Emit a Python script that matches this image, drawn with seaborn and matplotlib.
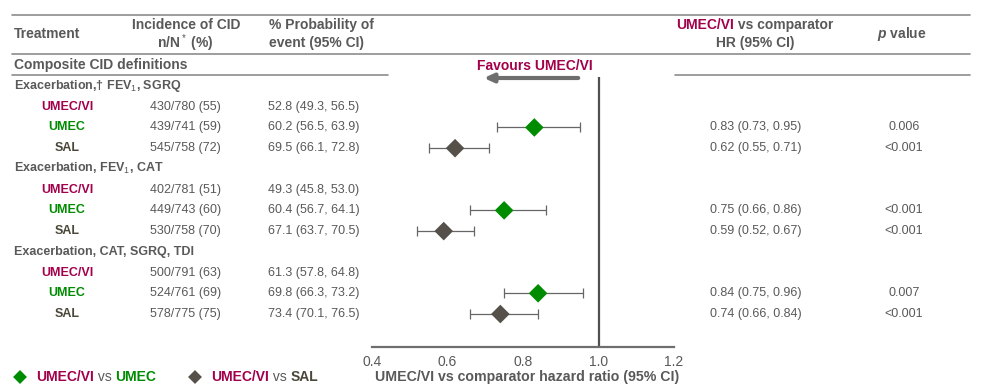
import numpy as np
import matplotlib
matplotlib.use("Agg")
import matplotlib.pyplot as plt
import pandas as pd
import seaborn as sns

sns.set_style("white")
plt.rcParams['font.family'] = ['Liberation Sans', 'DejaVu Sans']
plt.rcParams['mathtext.fontset'] = 'custom'
plt.rcParams['mathtext.rm'] = 'Liberation Sans'
plt.rcParams['mathtext.bf'] = 'Liberation Sans:bold'
plt.rcParams['mathtext.it'] = 'Liberation Sans:italic:bold'

# Data
groups = ["Exacerbation,† FEV$_1$, SGRQ", "Exacerbation, FEV$_1$, CAT",
          "Exacerbation, CAT, SGRQ, TDI"]
treatments = ["UMEC/VI", "UMEC", "SAL"]
incidence = [["430/780 (55)", "439/741 (59)", "545/758 (72)"],
             ["402/781 (51)", "449/743 (60)", "530/758 (70)"],
             ["500/791 (63)", "524/761 (69)", "578/775 (75)"]]
probability = [["52.8 (49.3, 56.5)", "60.2 (56.5, 63.9)", "69.5 (66.1, 72.8)"],
               ["49.3 (45.8, 53.0)", "60.4 (56.7, 64.1)", "67.1 (63.7, 70.5)"],
               ["61.3 (57.8, 64.8)", "69.8 (66.3, 73.2)", "73.4 (70.1, 76.5)"]]
hr = [[None, 0.83, 0.62], [None, 0.75, 0.59], [None, 0.84, 0.74]]
hr_lo = [[None, 0.73, 0.55], [None, 0.66, 0.52], [None, 0.75, 0.66]]
hr_hi = [[None, 0.95, 0.71], [None, 0.86, 0.67], [None, 0.96, 0.84]]
p_values = [[None, "0.006", "<0.001"], [None, "<0.001", "<0.001"],
            [None, "0.007", "<0.001"]]
xticks = [0.4, 0.6, 0.8, 1.0, 1.2]

CRIMSON = "#A3004C"
GREEN = "#008C00"
GRAY = "#595959"
SAL_TXT = "#4B4739"
DIAMOND_GRAY = "#55504A"
LINE = "#8C8C8C"
tcolors = {"UMEC/VI": CRIMSON, "UMEC": GREEN, "SAL": SAL_TXT}
mcolors = {"UMEC": GREEN, "SAL": DIAMOND_GRAY}

W, H = 983, 388
fig = plt.figure(figsize=(W / 100, H / 100), dpi=100)

# overlay axes in pixel coordinates
ov = fig.add_axes([0, 0, 1, 1])
ov.set_xlim(0, W)
ov.set_ylim(H, 0)
ov.axis("off")

row0, step = 86, 20.73
def row_y(i):
    return row0 + i * step

FS = 9
HFS = 10
renderer = fig.canvas.get_renderer()

def put_parts(x, y, parts, ha="left", fs=FS):
    objs = []
    for s, c, w in parts:
        t = ov.text(0, y, s, color=c, fontsize=fs, fontweight=w, va="center")
        objs.append(t)
    widths = [t.get_window_extent(renderer).width for t in objs]
    total = sum(widths)
    if ha == "center":
        x = x - total / 2
    for t, wd in zip(objs, widths):
        t.set_x(x)
        x += wd
    return x

# header lines
for y, x0, x1 in [(15, 12, 970), (54, 12, 970), (75, 12, 388), (75, 675, 970)]:
    ov.plot([x0, x1], [y, y], color=LINE, lw=1.2)

ov.text(14, 34, "Treatment", fontsize=HFS, fontweight="bold", color=GRAY, va="center")
ov.text(186, 25, "Incidence of CID", fontsize=HFS, fontweight="bold", color=GRAY, va="center", ha="center")
ov.text(185, 43, "n/N$^*$ (%)", fontsize=HFS, fontweight="bold", color=GRAY, va="center", ha="center")
ov.text(269, 25, "% Probability of", fontsize=HFS, fontweight="bold", color=GRAY, va="center")
ov.text(269, 43, "event (95% CI)", fontsize=HFS, fontweight="bold", color=GRAY, va="center")
put_parts(755, 25, [("UMEC/VI", CRIMSON, "bold"), (" vs comparator", GRAY, "bold")], ha="center", fs=HFS)
ov.text(755, 43, "HR (95% CI)", fontsize=HFS, fontweight="bold", color=GRAY, va="center", ha="center")
ov.text(902, 34, "$\\mathit{p}$ value", fontsize=HFS, fontweight="bold", color=GRAY, va="center", ha="center")
ov.text(14, 65, "Composite CID definitions", fontsize=HFS, fontweight="bold", color=GRAY, va="center")

ov.text(535, 66, "Favours UMEC/VI", fontsize=HFS, fontweight="bold", color=CRIMSON, va="center", ha="center")
ov.annotate("", xy=(481, 78), xytext=(581, 78),
            arrowprops=dict(arrowstyle="-|>,head_length=0.55,head_width=0.25", color="#6E6E6E", lw=3))

# table rows
records = []
i = 0
for g, grp in enumerate(groups):
    ov.text(14, row_y(i), grp, fontsize=FS, fontweight="bold", color=GRAY, va="center")
    i += 1
    for k, tr in enumerate(treatments):
        y = row_y(i)
        ov.text(67, y, tr, fontsize=FS, fontweight="bold", color=tcolors[tr], va="center", ha="center")
        ov.text(150, y, incidence[g][k], fontsize=FS, color=GRAY, va="center")
        ov.text(268, y, probability[g][k], fontsize=FS, color=GRAY, va="center")
        if hr[g][k] is not None:
            ov.text(710, y, f"{hr[g][k]:.2f} ({hr_lo[g][k]:.2f}, {hr_hi[g][k]:.2f})",
                    fontsize=FS, color=GRAY, va="center")
            ov.text(904, y, p_values[g][k], fontsize=FS, color=GRAY, va="center", ha="center")
            records.append(dict(row=i, comp=tr, hr=hr[g][k], lo=hr_lo[g][k], hi=hr_hi[g][k]))
        i += 1

df = pd.DataFrame(records)

# forest axes
x_left, x_right = 372, 674
y_top, y_bot = 77, 347
ax = fig.add_axes([x_left / W, 1 - y_bot / H, (x_right - x_left) / W, (y_bot - y_top) / H])
ax.patch.set_alpha(0)
ax.set_xlim(0.4, 1.2)
ax.set_ylim((y_bot - row0) / step, (y_top - row0) / step)

ax.errorbar(df["hr"], df["row"], xerr=[df["hr"] - df["lo"], df["hi"] - df["hr"]],
            fmt="none", ecolor="#666666", elinewidth=0.9, capsize=3.5, capthick=0.9, zorder=2)
sns.scatterplot(data=df, x="hr", y="row", hue="comp", palette=mcolors, marker="D",
                s=90, edgecolor="none", legend=False, ax=ax, zorder=3)
ax.axvline(1.0, color="#505050", lw=1.6, zorder=1)

for s in ["top", "right", "left"]:
    ax.spines[s].set_visible(False)
ax.spines["bottom"].set_color("#6E6E6E")
ax.spines["bottom"].set_linewidth(1.6)
ax.set_yticks([])
ax.set_xticks(xticks)
ax.set_xticklabels([f"{t:.1f}" for t in xticks])
ax.tick_params(axis="x", direction="in", length=5, width=1.2, color="#6E6E6E",
               labelcolor=GRAY, labelsize=10, pad=6)
ax.set_xlabel("")
ax.set_ylabel("")

ov.text(375, 377, "UMEC/VI vs comparator hazard ratio (95% CI)", fontsize=10.2,
        fontweight="bold", color=GRAY, va="center")

# legend
ov.scatter([20], [377], marker="D", s=50, color=GREEN, edgecolors="none")
put_parts(36, 377, [("UMEC/VI", CRIMSON, "bold"), (" vs ", GRAY, "normal"), ("UMEC", GREEN, "bold")], fs=10)
ov.scatter([195], [377], marker="D", s=50, color=DIAMOND_GRAY, edgecolors="none")
put_parts(211, 377, [("UMEC/VI", CRIMSON, "bold"), (" vs ", GRAY, "normal"), ("SAL", SAL_TXT, "bold")], fs=10)

fig.savefig("out.png", dpi=100)
